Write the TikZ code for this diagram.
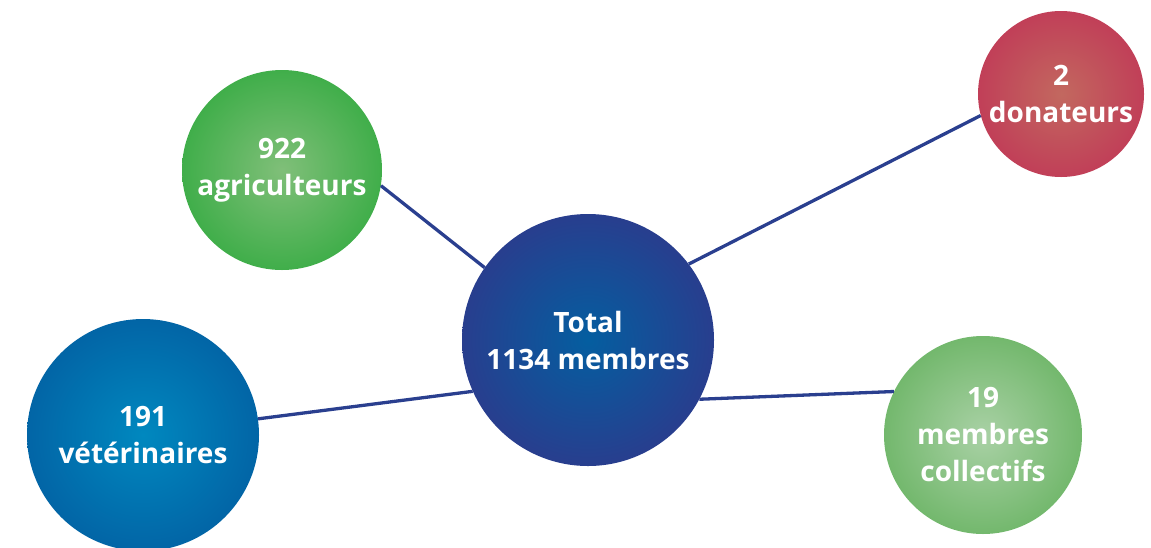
\documentclass[tikz,border=0pt]{standalone}
\usepackage{fontspec}
\setmainfont{Open Sans}
\definecolor{linkblue}{HTML}{2A3F8F}
\definecolor{agriout}{HTML}{40AE4A}
\definecolor{agriin}{HTML}{80BF79}
\definecolor{donout}{HTML}{C13F58}
\definecolor{donin}{HTML}{C2685F}
\definecolor{totout}{HTML}{283E8E}
\definecolor{totin}{HTML}{045EA0}
\definecolor{vetout}{HTML}{0265A6}
\definecolor{vetin}{HTML}{0088BF}
\definecolor{colout}{HTML}{73B86D}
\definecolor{colin}{HTML}{A9D1A5}
\begin{document}
\begin{tikzpicture}[x=1pt,y=-1pt,
  bubble/.style={circle,inner sep=0pt,text=white,align=center,
    font=\bfseries\fontsize{28}{37}\selectfont},
  link/.style={draw=linkblue,line width=3.3pt}]
\useasboundingbox (0,0) rectangle (1151,547);
\clip (0,0) rectangle (1151,547);
% bulles
\node[bubble,minimum size=200pt,inner color=agriin,outer color=agriout] (agri) at (282,170) {922\\agriculteurs};
\node[bubble,minimum size=166pt,inner color=donin,outer color=donout] (donat) at (1061,94) {2\\donateurs};
\node[bubble,minimum size=252pt,inner color=totin,outer color=totout] (total) at (588,340) {Total\\1134 membres};
\node[bubble,minimum size=232pt,inner color=vetin,outer color=vetout] (veto) at (143,435) {191\\vétérinaires};
\node[bubble,minimum size=198pt,inner color=colin,outer color=colout] (collect) at (983,435) {19\\membres\\collectifs};
% liens
\draw[link] (agri.-9) -- (total.145);
\draw[link] (donat.195) -- (total.37);
\draw[link] (veto.8) -- (total.204);
\draw[link] (collect.154) -- (total.-28);
\end{tikzpicture}
\end{document}
